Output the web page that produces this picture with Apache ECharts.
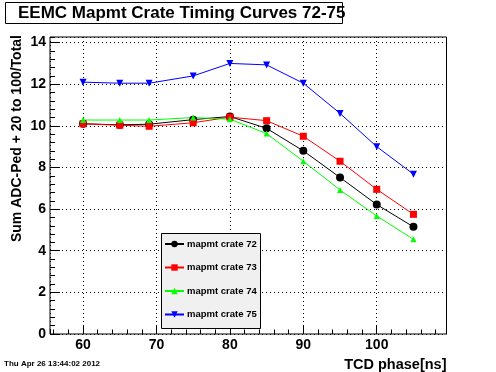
<!DOCTYPE html>
<html>
<head>
<meta charset="utf-8">
<script src="https://cdn.jsdelivr.net/npm/echarts@6/dist/echarts.min.js"></script>
<style>
html,body{margin:0;padding:0;background:#fff;}
#chart{width:496px;height:372px;}
</style>
</head>
<body>
<div id="chart"></div>
<script>
var titleText = 'EEMC Mapmt Crate Timing Curves 72-75';
var xTitle = 'TCD phase[ns]';
var yTitle = 'Sum ADC-Ped + 20 to 100/Total';
var dateText = 'Thu Apr 26 13:44:02 2012';
var seriesNames = ['mapmt crate 72', 'mapmt crate 73', 'mapmt crate 74', 'mapmt crate 75'];
var xValues = [60, 65, 69, 75, 80, 85, 90, 95, 100, 105];
var crate72 = [10.1, 10.05, 10.08, 10.3, 10.45, 9.88, 8.8, 7.52, 6.22, 5.15];
var crate73 = [10.1, 10.03, 9.98, 10.15, 10.42, 10.25, 9.5, 8.3, 6.95, 5.75];
var crate74 = [10.28, 10.28, 10.28, 10.4, 10.32, 9.63, 8.3, 6.92, 5.67, 4.55];
var crate75 = [12.1, 12.05, 12.05, 12.4, 13.0, 12.93, 12.05, 10.6, 9.0, 7.68];

var FONT = 'Liberation Sans, Arial, Helvetica, sans-serif';
function pairs(ys){ return xValues.map(function(x,i){ return [x, ys[i]]; }); }

var chart = echarts.init(document.getElementById('chart'), null, {renderer:'canvas'});
var gridPos = {left:50, top:37, width:396.5, height:297};
var dotted = {color:'#000', width:1, type:[1,3]};

function mkSeries(name, data, color, symbol, size, rotate){
  return {
    name:name, type:'line', data:pairs(data), xAxisIndex:0, yAxisIndex:0,
    symbol:symbol, symbolSize:size, symbolRotate:rotate||0, showAllSymbol:true,
    lineStyle:{color:color, width:1}, itemStyle:{color:color},
    emphasis:{disabled:true}, animation:false, z:5
  };
}

var option = {
  animation:false,
  backgroundColor:'#fff',
  grid:[Object.assign({show:true, borderColor:'#000', borderWidth:1, backgroundColor:'#fff'}, gridPos)],
  xAxis:[
    {type:'value', gridIndex:0, min:55.5, max:109.5, minInterval:10, maxInterval:10,
     axisLine:{show:false}, axisTick:{show:true, inside:true, length:9, lineStyle:{color:'#000'}},
     axisLabel:{show:true, showMinLabel:false, showMaxLabel:false, color:'#000', fontFamily:FONT, fontWeight:'bold', fontSize:14, margin:4},
     splitLine:{show:true, lineStyle:dotted}},
    {type:'value', gridIndex:0, position:'bottom', min:55.5, max:109.5, minInterval:2, maxInterval:2,
     axisLine:{show:false}, axisTick:{show:true, inside:true, length:4.5, lineStyle:{color:'#000'}},
     axisLabel:{show:false}, splitLine:{show:false}}
  ],
  yAxis:[
    {type:'value', gridIndex:0, min:0, max:14.27, interval:2,
     axisLine:{show:false}, axisTick:{show:true, inside:true, length:10, lineStyle:{color:'#000'}},
     axisLabel:{show:true, showMaxLabel:false, color:'#000', fontFamily:FONT, fontWeight:'bold', fontSize:14, margin:4},
     splitLine:{show:true, lineStyle:dotted}},
    {type:'value', gridIndex:0, position:'left', min:0, max:14.27, interval:0.4,
     axisLine:{show:false}, axisTick:{show:true, inside:true, length:5, lineStyle:{color:'#000'}},
     axisLabel:{show:false}, splitLine:{show:false}}
  ],
  legend:{
    show:true, orient:'vertical', left:164, top:238, padding:0,
    itemWidth:19, itemHeight:8, itemGap:11.5,
    data:seriesNames, selectedMode:false,
    textStyle:{color:'#000', fontFamily:FONT, fontWeight:'bold', fontSize:9.5, lineHeight:12, padding:[0,0,0,-2]}
  },
  series:[
    mkSeries(seriesNames[0], crate72, '#000000', 'circle', 8),
    mkSeries(seriesNames[1], crate73, '#ff0000', 'rect', 7),
    mkSeries(seriesNames[2], crate74, '#00ff00', 'triangle', 6),
    mkSeries(seriesNames[3], crate75, '#0000ff', 'triangle', 7, 180)
  ],
  graphic:[
    {type:'rect', left:161, top:233, z:3, shape:{width:99, height:95},
     style:{fill:'#f0f0f0', stroke:'#000', lineWidth:1}},
    {type:'rect', left:5, top:2, z:10, shape:{width:337, height:21},
     style:{fill:'#fff', stroke:'#000', lineWidth:1}},
    {type:'text', x:18, y:13, z:11,
     style:{text:titleText, fill:'#000', font:'bold 17px ' + FONT, textAlign:'left', textVerticalAlign:'middle'}},
    {type:'text', x:17, y:35, rotation:Math.PI/2, z:11,
     style:{text:yTitle, fill:'#000', font:'bold 14px ' + FONT, textAlign:'right', textVerticalAlign:'middle'}},
    {type:'text', x:446.5, y:365, z:11,
     style:{text:xTitle, fill:'#000', font:'bold 14.5px ' + FONT, textAlign:'right', textVerticalAlign:'middle'}},
    {type:'text', x:4, y:364, z:11,
     style:{text:dateText, fill:'#000', font:'bold 8px ' + FONT, textAlign:'left', textVerticalAlign:'middle'}}
  ]
};
chart.setOption(option);
</script>
</body>
</html>
